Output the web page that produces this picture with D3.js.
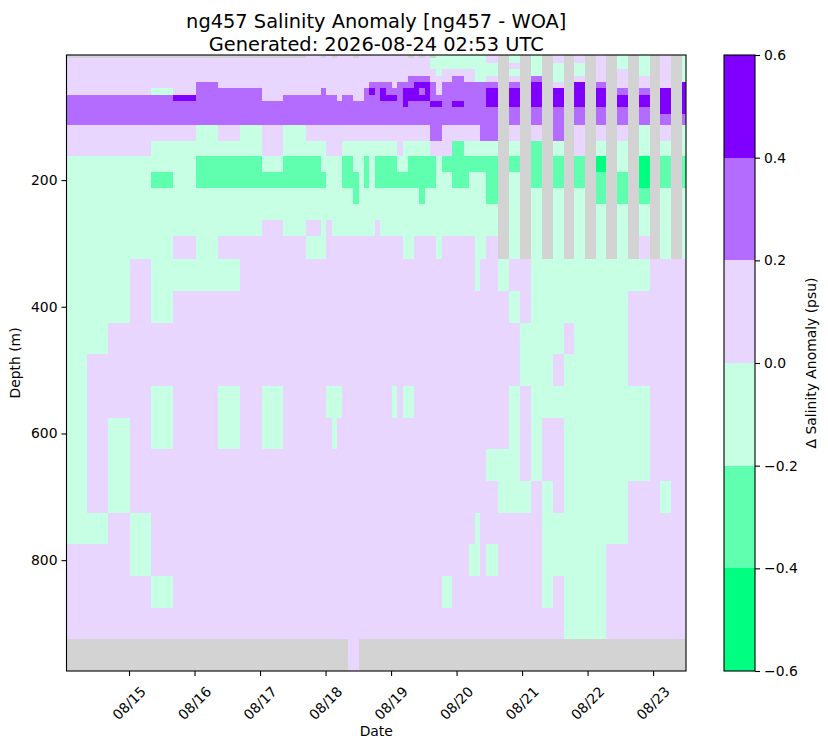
<!DOCTYPE html>
<html><head><meta charset="utf-8">
<script src="https://cdn.jsdelivr.net/npm/d3@7"></script>
<style>
body{margin:0;background:#fff}
text{font-family:"DejaVu Sans",sans-serif;fill:#000}
</style>
</head><body>
<svg id="chart" width="828" height="748"></svg>
<script>
// ---------------- data ----------------
const titleLines = ["ng457 Salinity Anomaly [ng457 - WOA]", "Generated: 2026-08-24 02:53 UTC"];
// depth levels (m) of the grid rows
const depthLevels = [5,10,20,30,40,50,60,70,80,90,100,125,150,175,200,225,250,275,300,350,400,450,500,550,600,650,700,750,800,850,900,950];
// profile bin edges, hours after 2026-08-15 00:00 UTC
const timeEdgesH = [-22.9,-15.5,-7.8,0.3,8.0,16.0,24.4,32.5,40.6,48.6,56.3,64.8,
  70.3,72.2,74.2,76.2,78.2,80.2,82.1,84.1,86.1,88.1,
  90.1,92.1,94.1,96.2,98.2,100.2,102.3,104.3,106.3,108.4,110.4,112.4,114.5,116.5,118.5,120.6,122.6,124.6,126.7,128.7,130.7,132.8,
  135.1,139.2,143.2,147.2,151.3,155.3,159.2,163.0,167.0,170.9,174.7,178.8,182.8,186.8,190.7,194.5,198.6,202.6,204.05];
// anomaly class codes -> representative anomaly (psu); g = no data
const codeValue = {B:-0.5, G:-0.3, M:-0.1, L:0.1, P:0.3, D:0.5, g:NaN};
// one string per depth level, one character per profile (spaces only group columns)
const anomalyRows = [
 "ggggggggggg LgLgLLLgLLL LLLLLLgLgLgMMMMMMMMMLL gMgMgLgLgLgMgMgLgM",
 "LLLLLLLLLLL LLLLLLLLLLL LLLLLLLLLLMMMMMMMMMMLL gMgMgLgLgLgMgMgLgM",
 "LLLLLLLLLLL LLLLLLLLLLL LLLLLLLLLLMMMMMMMMMMMM gLgMgMgMgLgMgMgLgM",
 "LLLLLLLLLLL LLLLLLLLLLL LLLLLLLLLLLMLLLLLLMMMM gMgMgMgMgLgLgMgLgM",
 "LLLLLLLLLLL LLLLLLLLLLL LLLLLLPPPPLLLLPPLLMMLL gLgPgMgLgLgLgLgLgM",
 "LLLLLLPLLLL LLLLLLLLLLP PPPLPPPDDDPLPPPPPPPPPP gPgDgLgDgPgLgLgLgD",
 "LLLLMLPPPLL LPLLLLLLLPD PDPPPDDDPDPLPPPPPPPPDD gDgDgDgDgDgPgPgDgD",
 "PPPPPDPPPLP PPPPLPPLLPP PDDDPDDDDDPPPPPPPPPPDD gDgDgDgDgDgDgDgDgD",
 "PPPPPPPPPPP PPPPPPPPPPP PPPPPDPPPPDDPPDDPPPPDD gDgDgDgDgDgDgDgDgD",
 "PPPPPPPPPPP PPPPPPPPPPP PPPPPPPPPPPPPPPPPPPPPP gPgPgPgPgPgPgPgDgD",
 "PPPPPPPPPPP PPPPPPPPPPP PPPPPPPPPPPPPPPPPPPPPP gPgPgPgPgPgPgPgPgP",
 "LLLLLLMLMLM LLLLLLLLLLL LLLLLLLLLLPPLLLLLLLPPP gLgLgPgLgLgLgMgLgM",
 "LLLLMMMMMLM MMLLLMMMMMM MMMMLMMMMMLLLLGGMMMMMM gMgGgMgLgMgMgMgMgM",
 "MMMMMMGGGMG GMMMMGGMMGM GGGGMMGGGGGMGGGGGGGGGG gGgGgGgGgBgMgBgGgG",
 "MMMMGMGGGGG GGMMMGGGMGM GGGGGGGGGGGMMMGGGMMMGG gMgGgGgGgGgGgBgGgG",
 "MMMMMMMMMMM MMMMMMMGMMM MMMMMMMMGMMMMMMMMMMMGG gMgMgMgMgGgGgGgMgM",
 "MMMMMMMMMMM MMMMMMMMMMM MMMMMMMMMMMMMMMMMMMMMM gMgMgMgMgMgMgMgMgM",
 "MMMMMMMMMLM LMLMMMMMMMM LMMMMMMMMMMMMMMMMMMMMM gMgMgMgMgMgMgMgMgM",
 "MMMMMLMLLLL MMLLLLLLLLL LLLLLMMLLLLMLLLLLLMMLL gMgMgMgMgMgMgLgMgM",
 "MMMLMMMMLLL LLLLLLLLLLL LLLLLLLLLLLLLLLLLLMLLL MLLMMMMMMMMMMMLLLL",
 "MMMLMLLLLLL LLLLLLLLLLL LLLLLLLLLLLLLLLLLLLLLL LMLMMMMMMMMMLLLLLL",
 "MMLLLLLLLLL LLLLLLLLLLL LLLLLLLLLLLLLLLLLLLLLL LLMMMMLMMMMMLLLLLL",
 "MLLLLLLLLLL LLLLLLLLLLL LLLLLLLLLLLLLLLLLLLLLL LLMMMLMMMMMMLLLLLL",
 "MLLLMLLMLML LLMMMLLLLLL LLLMLMMLLLLLLLLLLLLLLL LMLMMMMMMMMMMMLLLL",
 "MLMLMLLMLML LLLMLLLLLLL LLLLLLLLLLLLLLLLLLLLLL LMLMLLMMMMMMMMLLLL",
 "MLMLLLLLLLL LLLLLLLLLLL LLLLLLLLLLLLLLLLLLLLMM MMLMLLMMMMMMMMLLLL",
 "MLMLLLLLLLL LLLLLLLLLLL LLLLLLLLLLLLLLLLLLLLLL MMMLMLMMMMMMLLLMLL",
 "MMLMLLLLLLL LLLLLLLLLLL LLLLLLLLLLLLLLLLLLMLLL LLLLMMMMMMMMLLLLLL",
 "LLLMLLLLLLL LLLLLLLLLLL LLLLLLLLLLLLLLLLLMMLMM LLLLMMMMMMLLLLLLLL",
 "LLLLMLLLLLL LLLLLLLLLLL LLLLLLLLLLLLMMLLLLLLLL LLLLMLMMMMLLLLLLLL",
 "LLLLLLLLLLL LLLLLLLLLLL LLLLLLLLLLLLLLLLLLLLLL LLLLLLMMMMLLLLLLLL",
 "ggggggggggg ggggggLLggg gggggggggggggggggggggg gggggggggggggggggg"
];
const colorBounds = [-0.6,-0.4,-0.2,0,0.2,0.4,0.6];
const bandColors = ["#00ff80","#60ffb0","#c6ffe3","#e9d6ff","#b36cff","#7f00ff"];
const missingColor = "#d3d3d3";
const depthTicks = [200,400,600,800];
const cbarTicks = [-0.6,-0.4,-0.2,0,0.2,0.4,0.6];

// ---------------- layout ----------------
const svg = d3.select("#chart");
const P = {left:66.5, right:686, top:55, bottom:671};
const t0 = Date.UTC(2026,7,15);
const toDate = h => new Date(t0 + h*3600e3);

const x = d3.scaleUtc()
  .domain([toDate(timeEdgesH[0]), toDate(timeEdgesH[timeEdgesH.length-1])])
  .range([P.left, P.right]);

const depthEdges = [depthLevels[0] - (depthLevels[1]-depthLevels[0])/2];
for (let i=0;i<depthLevels.length-1;i++) depthEdges.push((depthLevels[i]+depthLevels[i+1])/2);
const nL = depthLevels.length;
depthEdges.push(depthLevels[nL-1] + (depthLevels[nL-1]-depthLevels[nL-2])/2);

const y = d3.scaleLinear().domain([depthEdges[0], depthEdges[depthEdges.length-1]]).range([P.top, P.bottom]);

const color = d3.scaleThreshold().domain(colorBounds.slice(1,-1)).range(bandColors);

// cells
const cells = [];
anomalyRows.forEach((s, r) => {
  const codes = s.replace(/ /g, "");
  for (let c=0;c<codes.length;c++) {
    cells.push({r, c, v: codeValue[codes[c]]});
  }
});
const g = svg.append("g").attr("shape-rendering","crispEdges");
g.selectAll("rect").data(cells).join("rect")
  .attr("x", d => x(toDate(timeEdgesH[d.c])))
  .attr("width", d => x(toDate(timeEdgesH[d.c+1])) - x(toDate(timeEdgesH[d.c])) + 0.4)
  .attr("y", d => y(depthEdges[d.r]))
  .attr("height", d => y(depthEdges[d.r+1]) - y(depthEdges[d.r]) + 0.4)
  .attr("fill", d => isNaN(d.v) ? missingColor : color(d.v));

// frame
svg.append("rect").attr("x",P.left).attr("y",P.top).attr("width",P.right-P.left).attr("height",P.bottom-P.top)
  .attr("fill","none").attr("stroke","#000").attr("stroke-width",1.1);

// y axis
const yAxis = svg.append("g").attr("transform",`translate(${P.left},0)`)
  .call(d3.axisLeft(y).tickValues(depthTicks).tickSize(5).tickPadding(4));
yAxis.select(".domain").remove();
yAxis.selectAll("text").style("font-size","13.9px").style("font-family","DejaVu Sans");
yAxis.selectAll("line").attr("stroke-width",1.1);

// x axis
const days = d3.utcDay.range(x.domain()[0], x.domain()[1]).filter(d => d > x.domain()[0]);
const xAxis = svg.append("g").attr("transform",`translate(0,${P.bottom})`)
  .call(d3.axisBottom(x).tickValues(days).tickSize(5).tickFormat(""));
xAxis.select(".domain").remove();
xAxis.selectAll("line").attr("stroke-width",1.1);
svg.append("g").selectAll("text").data(days).join("text")
  .attr("transform", d => `translate(${x(d)},${P.bottom+32}) rotate(-45)`)
  .attr("text-anchor","middle").attr("dominant-baseline","central")
  .style("font-size","13.9px")
  .text(d3.utcFormat("%m/%d"));

// axis labels
svg.append("text").attr("x",(P.left+P.right)/2).attr("y",736).attr("text-anchor","middle")
  .style("font-size","13.9px").text("Date");
svg.append("text").attr("transform",`translate(20,${(P.top+P.bottom)/2}) rotate(-90)`)
  .attr("text-anchor","middle").style("font-size","13.9px").text("Depth (m)");

// title
titleLines.forEach((t,i) => {
  svg.append("text").attr("x",(P.left+P.right)/2).attr("y",27.7+i*22.8).attr("text-anchor","middle")
    .style("font-size","19.4px").text(t);
});

// colorbar
const CB = {x0:724, x1:755};
const cy = d3.scaleLinear().domain([colorBounds[0], colorBounds[colorBounds.length-1]]).range([P.bottom, P.top]);
svg.append("g").attr("shape-rendering","crispEdges").selectAll("rect").data(bandColors).join("rect")
  .attr("x",CB.x0).attr("width",CB.x1-CB.x0)
  .attr("y",(d,i) => cy(colorBounds[i+1]))
  .attr("height",(d,i) => cy(colorBounds[i]) - cy(colorBounds[i+1]))
  .attr("fill", d => d);
svg.append("rect").attr("x",CB.x0).attr("y",P.top).attr("width",CB.x1-CB.x0).attr("height",P.bottom-P.top)
  .attr("fill","none").attr("stroke","#000").attr("stroke-width",1.1);
const cAxis = svg.append("g").attr("transform",`translate(${CB.x1},0)`)
  .call(d3.axisRight(cy).tickValues(cbarTicks).tickSize(5).tickPadding(4).tickFormat(d3.format(".1f")));
cAxis.select(".domain").remove();
cAxis.selectAll("text").style("font-size","13.9px").style("font-family","DejaVu Sans");
cAxis.selectAll("line").attr("stroke-width",1.1);
svg.append("text").attr("transform",`translate(816,${(P.top+P.bottom)/2}) rotate(-90)`)
  .attr("text-anchor","middle").style("font-size","13.9px").text("Δ Salinity Anomaly (psu)");
</script>
</body></html>
